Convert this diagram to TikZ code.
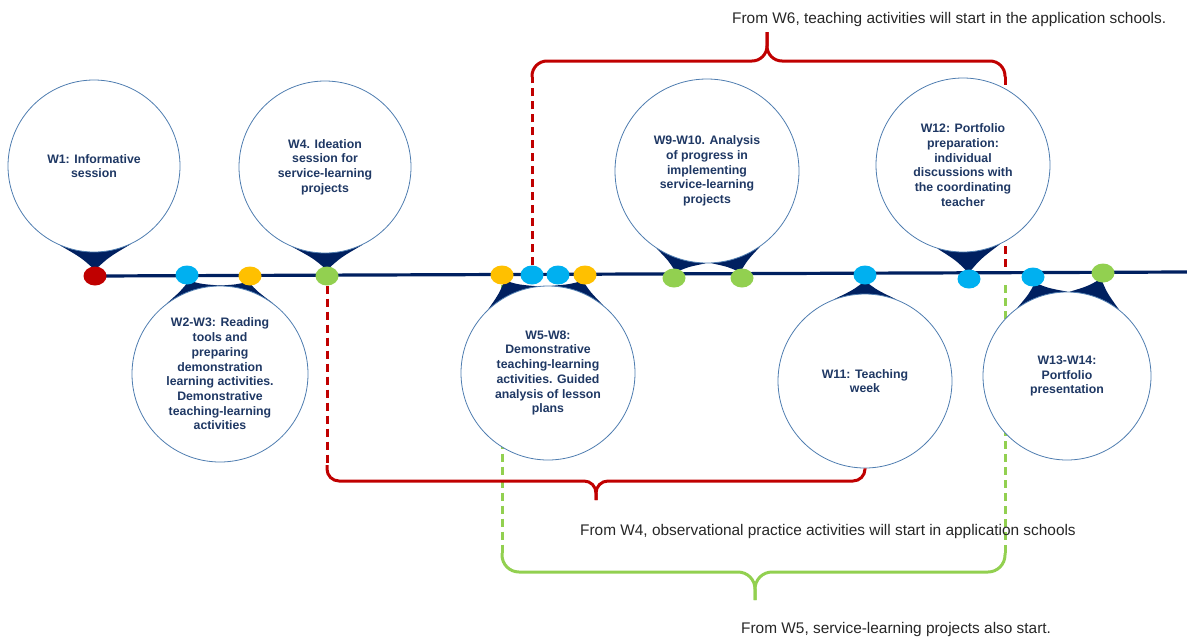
\documentclass[tikz,border=0pt]{standalone}
\usepackage{fontspec}
\setmainfont{Liberation Sans}
\usetikzlibrary{calc,shapes.geometric}

\definecolor{navy}{HTML}{002060}
\definecolor{ringblue}{HTML}{4F7DB0}
\definecolor{ringtext}{HTML}{1F3864}
\definecolor{wred}{HTML}{C00000}
\definecolor{wblue}{HTML}{00B0F0}
\definecolor{wyellow}{HTML}{FFC000}
\definecolor{wgreen}{HTML}{92D050}
\definecolor{notegray}{HTML}{262626}

\pgfdeclarelayer{back}
\pgfsetlayers{back,main}

\tikzset{
  bubble/.style={circle, draw=ringblue, line width=0.8pt, fill=white, inner sep=0pt,
    align=center, text=ringtext, font=\fontsize{12.3}{14.7}\selectfont\bfseries},
  weekdot/.style={ellipse, minimum width=23pt, minimum height=19pt, inner sep=0pt},
  pointer/.style={fill=navy},
  timeline/.style={draw=navy, line width=3.2pt},
  bracered/.style={draw=wred, line width=3pt},
  bracegreen/.style={draw=wgreen, line width=3pt, rounded corners=17pt},
  dashred/.style={draw=wred, line width=3pt, dash pattern=on 8pt off 5pt},
  dashgreen/.style={draw=wgreen, line width=3pt, dash pattern=on 8pt off 5pt},
  note/.style={anchor=base west, inner sep=0pt, text=notegray,
    font=\fontsize{15.4}{18}\selectfont}
}

% pointer from a bubble to its week dot
\newcommand\calltail[3]{%
  \fill[pointer] let \p1=(#1.center), \p2=(#2),
      \n1={int(atan2(\y2-\y1,\x2-\x1))}, \n2={int(\n1+#3)}, \n3={int(\n1-#3)},
      \p3=($(#2)!6pt!(#1.center)$),
      \p4=($(#1.\n2)!0.5!(\p3)$), \p5=($(#1.\n3)!0.5!(\p3)$),
      \p6=($(\p1)!(\p4)!(\p3)$), \p7=($(\p1)!(\p5)!(\p3)$) in
    (#1.\n2) .. controls ($(\p4)!0.22!(\p6)$) .. (\p3)
    .. controls ($(\p5)!0.22!(\p7)$) .. (#1.\n3) -- (\p1) -- cycle;}

\begin{document}
\begin{tikzpicture}[x=1pt, y=-1pt]
  \useasboundingbox (0,0) rectangle (1187,638);

  % bubbles
  \begin{scope}[every node/.style={bubble}]
    \node[minimum size=172pt] (w1)    at (94,166)   {W1: Informative\\session};
    \node[minimum size=172pt] (w4)    at (325,167)  {W4. Ideation\\session for\\service-learning\\projects};
    \node[minimum size=176pt] (w23)   at (220,374)  {W2-W3: Reading\\tools and\\preparing\\demonstration\\learning activities.\\Demonstrative\\teaching-learning\\activities};
    \node[minimum size=174pt] (w58)   at (548,373)  {W5-W8:\\Demonstrative\\teaching-learning\\activities. Guided\\analysis of lesson\\plans};
    \node[minimum size=184pt] (w910)  at (707,171)  {W9-W10. Analysis\\of progress in\\implementing\\service-learning\\projects};
    \node[minimum size=174pt] (w11)   at (865,381)  {W11: Teaching\\week};
    \node[minimum size=174pt] (w12)   at (963,165)  {W12: Portfolio\\preparation:\\individual\\discussions with\\the coordinating\\teacher};
    \node[minimum size=168pt] (w1314) at (1067,376) {W13-W14:\\Portfolio\\presentation};
  \end{scope}

  % week dots
  \begin{scope}[every node/.style={weekdot}]
    \node[fill=wred]    (wk1)  at (95,276)   {};
    \node[fill=wblue]   (wk2)  at (187,275)  {};
    \node[fill=wyellow] (wk3)  at (250,276)  {};
    \node[fill=wgreen]  (wk4)  at (327,276)  {};
    \node[fill=wyellow] (wk5)  at (502,275)  {};
    \node[fill=wblue]   (wk6)  at (532,275)  {};
    \node[fill=wblue]   (wk7)  at (558,275)  {};
    \node[fill=wyellow] (wk8)  at (585,275)  {};
    \node[fill=wgreen]  (wk9)  at (674,278)  {};
    \node[fill=wgreen]  (wk10) at (742,278)  {};
    \node[fill=wblue]   (wk11) at (865,275)  {};
    \node[fill=wblue]   (wk12) at (969,279)  {};
    \node[fill=wblue]   (wk13) at (1033,277) {};
    \node[fill=wgreen]  (wk14) at (1103,273) {};
  \end{scope}

  \coordinate (tl-end)  at (1187,272);
  \coordinate (rt-l)    at (532,77);
  \coordinate (rt-mid)  at (767,61);
  \coordinate (rt-tip)  at (767,32);
  \coordinate (rt-r)    at (1005,77);
  \coordinate (rt-foot) at (1005,270);
  \coordinate (rb-l)    at (327,465);
  \coordinate (rb-mid)  at (596,481);
  \coordinate (rb-tip)  at (596,500);
  \coordinate (gb-l)    at (502,553);
  \coordinate (gb-mid)  at (755,572);
  \coordinate (gb-tip)  at (755,600);
  \coordinate (gb-r)    at (1005,553);
  \coordinate (gb-foot) at (1005,285);

  \begin{pgfonlayer}{back}
    \draw[dashred] (wk4.south) -- (rb-l);
    \draw[dashred] (wk6.north) -- (rt-l);
    \draw[dashred] (rt-r) -- (rt-foot);
    \draw[dashgreen] (wk5.south) -- (gb-l);
    \draw[dashgreen] (gb-foot) -- (gb-r);

    \draw[timeline] (wk1.center) -- (tl-end);

    \calltail{w1}{wk1}{24}
    \calltail{w23}{wk2}{19}
    \calltail{w23}{wk3}{19}
    \calltail{w4}{wk4}{24}
    \calltail{w58}{wk5}{18}
    \calltail{w58}{wk8}{18}
    \calltail{w910}{wk9}{16}
    \calltail{w910}{wk10}{16}
    \calltail{w11}{wk11}{21}
    \calltail{w12}{wk12}{21}
    \calltail{w1314}{wk13}{18}
    \calltail{w1314}{wk14}{18}
  \end{pgfonlayer}

  % braces
  \draw[bracered, rounded corners=15pt] (rt-l) |- (rt-mid) -- (rt-tip);
  \draw[bracered, rounded corners=15pt] (rt-tip) -- (rt-mid) -| (rt-r);
  \draw[bracered, rounded corners=12pt] (rb-l) |- (rb-mid) -- (rb-tip);
  \draw[bracered, rounded corners=12pt] (rb-tip) -- (rb-mid) -| (w11.south);
  \draw[bracegreen] (gb-l) |- (gb-mid) -- (gb-tip);
  \draw[bracegreen] (gb-tip) -- (gb-mid) -| (gb-r);

  \node[note] (n6) at (732,23)  {From W6, teaching activities will start in the application schools.};
  \node[note] (n4) at (580,535) {From W4, observational practice activities will start in application schools};
  \node[note] (n5) at (741,633) {From W5, service-learning projects also start.};
\end{tikzpicture}
\end{document}
